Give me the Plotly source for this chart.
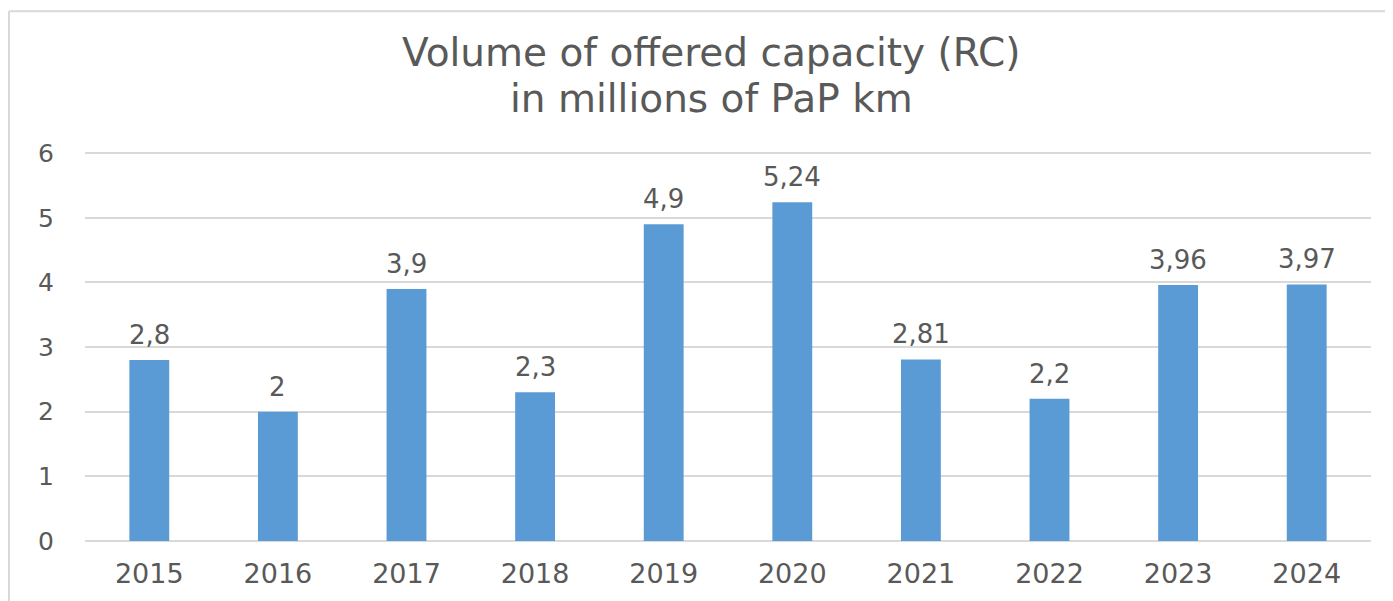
import plotly.graph_objects as go

years = ["2015", "2016", "2017", "2018", "2019", "2020", "2021", "2022", "2023", "2024"]
capacity = [2.8, 2.0, 3.9, 2.3, 4.9, 5.24, 2.81, 2.2, 3.96, 3.97]
labels = [f"{v:g}".replace(".", ",") for v in capacity]

TEXT = "#595959"
FONT = "DejaVu Sans"

fig = go.Figure(
    go.Bar(x=years, y=capacity, marker_color="#5B9BD5", marker_line_width=0,
           hoverinfo="x+y")
)

# data labels above bars (category index positions)
for i, (v, lab) in enumerate(zip(capacity, labels)):
    fig.add_annotation(x=i, y=v, text=lab, showarrow=False, yshift=25,
                       font=dict(family=FONT, size=26, color=TEXT))

# title, two lines (paper y measured from the plot area)
for txt, ty in [("Volume of offered capacity (RC)", 1.25),
                ("in millions of PaP km", 1.132)]:
    fig.add_annotation(x=0.487, y=ty, xref="paper", yref="paper", text=txt,
                       showarrow=False, yanchor="middle", xanchor="center",
                       font=dict(family=FONT, size=39, color=TEXT))

# chart frame (left and top edges)
fig.add_shape(type="line", xref="paper", yref="paper", x0=-0.0591, x1=-0.0591,
              y0=-0.2, y1=1.355, line=dict(color="#D9D9D9", width=2))
fig.add_shape(type="line", xref="paper", yref="paper", x0=-0.0591, x1=1.05,
              y0=1.355, y1=1.355, line=dict(color="#D9D9D9", width=2))

fig.update_layout(
    width=1385, height=593,
    margin=dict(l=77, r=22, t=142, b=54),
    paper_bgcolor="white", plot_bgcolor="white",
    bargap=0.69,
    showlegend=False,
    font=dict(family=FONT, color=TEXT),
)
fig.update_xaxes(type="category", range=[-0.5, 9.5], showgrid=False,
                 showline=False, ticks="",
                 tickfont=dict(family=FONT, size=27, color=TEXT),
                 ticklabelstandoff=14)
fig.update_yaxes(range=[0, 6.05], dtick=1, showgrid=True, gridcolor="#D9D9D9",
                 gridwidth=2, zeroline=True, zerolinecolor="#D9D9D9", zerolinewidth=2,
                 ticks="", tickfont=dict(family=FONT, size=25, color=TEXT),
                 ticklabelstandoff=30)

fig.write_html("out.html")
